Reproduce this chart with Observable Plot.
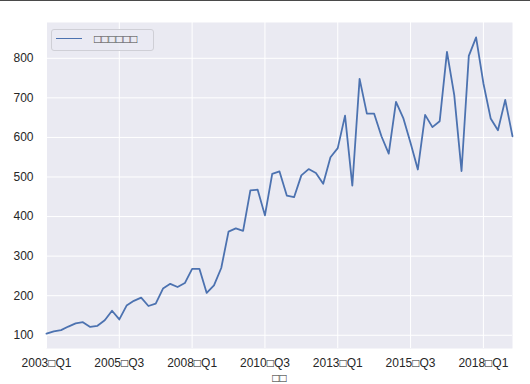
<!DOCTYPE html>
<html>
<head>
<meta charset="utf-8">
<script src="https://cdn.jsdelivr.net/npm/d3@7"></script>
<script src="https://cdn.jsdelivr.net/npm/@observablehq/plot@0.6"></script>
<style>
  html, body { margin: 0; padding: 0; background: white; }
  #wrap { position: relative; width: 530px; height: 384px; overflow: hidden; border-top: 1px solid #4a4a4a; box-sizing: border-box; }
  #legend { position: absolute; left: 51px; top: 28px; width: 101px; height: 20px; border: 1px solid #cfcfd6; border-radius: 3px; background: rgba(234,234,242,0.8); font-family: "Liberation Sans", Arial, sans-serif; font-size: 12px; color: #262626; }
  #legend .swatch { position: absolute; left: 4px; top: 8px; width: 26px; height: 0; border-top: 1.8px solid #4c72b0; }
  #legend .lbl { position: absolute; left: 42px; top: 2px; white-space: nowrap; color: #444; }
</style>
</head>
<body>
<div id="wrap">
  <div id="chart"></div>
  <div id="legend"><div class="swatch"></div><div class="lbl"></div></div>
</div>
<script>
const seriesName = "□□□□□□";
const xAxisLabel = "□□";
const quarters = [
  "2003□Q1","2003□Q2","2003□Q3","2003□Q4",
  "2004□Q1","2004□Q2","2004□Q3","2004□Q4",
  "2005□Q1","2005□Q2","2005□Q3","2005□Q4",
  "2006□Q1","2006□Q2","2006□Q3","2006□Q4",
  "2007□Q1","2007□Q2","2007□Q3","2007□Q4",
  "2008□Q1","2008□Q2","2008□Q3","2008□Q4",
  "2009□Q1","2009□Q2","2009□Q3","2009□Q4",
  "2010□Q1","2010□Q2","2010□Q3","2010□Q4",
  "2011□Q1","2011□Q2","2011□Q3","2011□Q4",
  "2012□Q1","2012□Q2","2012□Q3","2012□Q4",
  "2013□Q1","2013□Q2","2013□Q3","2013□Q4",
  "2014□Q1","2014□Q2","2014□Q3","2014□Q4",
  "2015□Q1","2015□Q2","2015□Q3","2015□Q4",
  "2016□Q1","2016□Q2","2016□Q3","2016□Q4",
  "2017□Q1","2017□Q2","2017□Q3","2017□Q4",
  "2018□Q1","2018□Q2","2018□Q3","2018□Q4",
  "2019□Q1"
];
const values = [
  104, 110, 113, 122, 130, 133, 121, 124,
  138, 162, 140, 175, 187, 195, 174, 180,
  218, 230, 222, 232, 268, 268, 207, 226,
  270, 362, 370, 364, 466, 468, 403, 508,
  514, 453, 449, 504, 520, 510, 483, 550,
  573, 655, 478, 748, 660, 660, 603, 559,
  690, 649, 586, 519, 657, 626, 641, 816,
  707, 515, 806, 853, 737, 648, 618, 695,
  603
];
const xTicks = ["2003□Q1","2005□Q3","2008□Q1","2010□Q3","2013□Q1","2015□Q3","2018□Q1"];
const yTicks = [100, 200, 300, 400, 500, 600, 700, 800];

const table = quarters.map((q, i) => ({i, q, v: values[i]}));
const xTickIdx = xTicks.map(t => quarters.indexOf(t));
const [vmin, vmax] = d3.extent(values);
const pad = (vmax - vmin) * 0.05;

document.querySelector("#legend .lbl").textContent = seriesName;

const chart = Plot.plot({
  width: 530,
  height: 383,
  marginLeft: 46,
  marginRight: 18,
  marginTop: 21,
  marginBottom: 36,
  style: {fontFamily: "'Liberation Sans', Arial, sans-serif", fontSize: "12px", color: "#262626", background: "white"},
  x: {type: "linear", domain: [0, quarters.length - 1]},
  y: {domain: [vmin - pad, vmax + pad]},
  marks: [
    Plot.frame({fill: "#eaeaf2", stroke: null}),
    Plot.gridX(xTickIdx, {stroke: "white", strokeOpacity: 1, strokeWidth: 1}),
    Plot.gridY(yTicks, {stroke: "white", strokeOpacity: 1, strokeWidth: 1}),
    Plot.line(table, {x: "i", y: "v", stroke: "#4c72b0", strokeWidth: 1.8}),
    Plot.axisX(xTickIdx, {tickSize: 0, tickPadding: 10, tickFormat: i => quarters[i], label: xAxisLabel, labelArrow: "none", labelAnchor: "center", labelOffset: 33, fill: "#262626"}),
    Plot.axisY(yTicks, {tickSize: 0, tickPadding: 13, label: null, fill: "#262626"})
  ]
});
document.getElementById("chart").appendChild(chart);
</script>
</body>
</html>
